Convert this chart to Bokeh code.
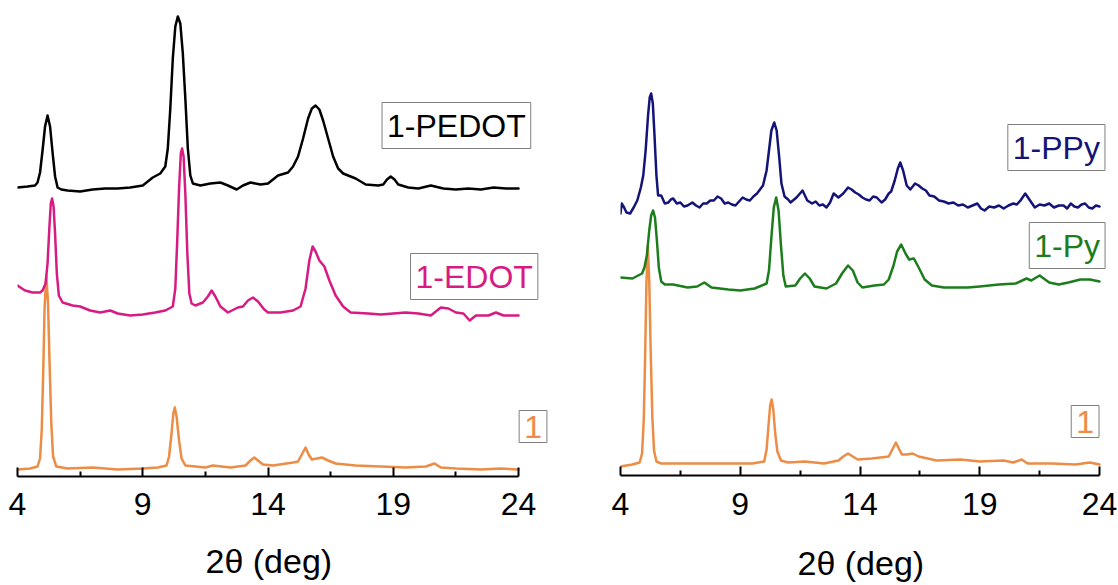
from bokeh.plotting import figure
from bokeh.layouts import row
from bokeh.models import FixedTicker, Label, Range1d, Title
from bokeh.embed import file_html
from bokeh.resources import INLINE

# ---------------- data (2theta in deg, intensity offset in a.u.) ----------------
major_ticks = [4, 9, 14, 19, 24]
minor_ticks = [6.5, 11.5, 16.5, 21.5]
x_title = "2θ (deg)"

# Left panel: 1, 1-EDOT, 1-PEDOT
x_1_left = [4.0, 4.5, 4.8, 4.9, 4.97, 5.03, 5.08, 5.15, 5.22, 5.28, 5.35, 5.42, 5.55, 6.0, 7.0, 8.0,
            9.0, 9.6, 9.95, 10.05, 10.15, 10.22, 10.28, 10.35, 10.45, 10.55, 10.7, 11.5, 11.8, 12.5,
            13.1, 13.3, 13.45, 13.6, 13.8, 14.2, 15.0, 15.2, 15.35, 15.5, 15.62, 15.75, 15.95, 16.15,
            16.4, 16.7, 17.5, 18.5, 19.5, 20.3, 20.65, 20.9, 21.5, 22.5, 23.3, 24.0]
y_1_left = [9, 10, 12, 20, 50, 110, 170, 203, 175, 115, 55, 22, 12, 10, 11, 9,
            10, 11, 13, 22, 45, 65, 71, 62, 38, 20, 13, 11, 13, 11,
            13, 18, 21, 18, 14, 13, 16, 17, 24, 31, 24, 19, 20, 21,
            18, 15, 13, 12, 11, 12, 15, 11, 10, 9, 10, 9]

x_edot = [4.0, 4.3, 4.6, 4.9, 5.0, 5.12, 5.2, 5.27, 5.33, 5.38, 5.44, 5.5, 5.57, 5.65, 5.8, 6.2, 6.5,
          6.9, 7.3, 7.7, 8.0, 8.5, 9.0, 9.5, 9.9, 10.2, 10.3, 10.38, 10.45, 10.52, 10.57, 10.63, 10.7,
          10.78, 10.86, 10.95, 11.1, 11.4, 11.6, 11.75, 11.9, 12.1, 12.4, 12.8, 13.0, 13.2, 13.4,
          13.6, 13.85, 14.0, 14.5, 15.0, 15.3, 15.5, 15.65, 15.78, 15.9, 16.05, 16.25, 16.45, 16.7,
          17.0, 17.3, 18.0, 18.5, 19.0, 19.5, 20.0, 20.5, 20.9, 21.2, 21.5, 21.8, 22.05, 22.3, 22.8,
          23.1, 23.4, 24.0]
y_edot = [193, 188, 186, 186, 188, 195, 215, 250, 275, 280, 272, 245, 205, 183, 176, 173, 172,
          168, 166, 168, 165, 163, 164, 166, 168, 172, 190, 240, 290, 325, 330, 322, 285,
          225, 185, 175, 173, 176, 182, 188, 182, 172, 166, 171, 172, 178, 181,
          177, 169, 166, 166, 168, 172, 190, 218, 232, 227, 218, 212, 198, 183,
          172, 166, 165, 164, 165, 166, 165, 163, 171, 170, 166, 165, 158, 163, 163,
          166, 163, 163]

x_pedot = [4.0, 4.4, 4.7, 4.8, 4.9, 5.0, 5.1, 5.2, 5.3, 5.4, 5.5, 5.6, 5.75, 6.0, 6.5, 7.0,
           7.5, 8.0, 8.5, 9.0, 9.4, 9.7, 9.9, 10.0, 10.1, 10.2, 10.3, 10.4, 10.5, 10.6, 10.7, 10.8,
           10.9, 11.0, 11.3, 11.7, 12.1, 12.4, 12.75, 13.0, 13.3, 13.7, 14.0, 14.4, 14.8, 15.0, 15.2,
           15.4, 15.6, 15.75, 15.9, 16.05, 16.2, 16.4, 16.6, 16.8, 17.0, 17.5, 17.9, 18.4, 18.6,
           18.75, 18.9, 19.05, 19.2, 19.6, 20.0, 20.5, 21.0, 21.5, 22.0, 22.5, 23.0, 23.5, 24.0]
y_pedot = [291, 292, 293, 296, 306, 328, 352, 363, 352, 326, 302, 291, 289, 288, 287, 289,
           290, 290, 291, 293, 301, 305, 312, 330, 370, 420, 452, 462, 455, 425, 380, 330,
           303, 295, 293, 295, 296, 293, 289, 293, 296, 294, 295, 303, 306, 312, 322,
           340, 360, 370, 373, 369, 358, 340, 322, 310, 305, 300, 294, 293, 294,
           299, 302, 299, 294, 291, 290, 293, 290, 289, 290, 289, 291, 290, 290]

# Right panel: 1, 1-Py, 1-PPy
x_1_right = [4.0, 4.5, 4.8, 4.9, 4.97, 5.03, 5.08, 5.14, 5.2, 5.26, 5.33, 5.4, 5.5, 5.7, 6.5, 7.5,
             8.5, 9.5, 10.0, 10.1, 10.18, 10.25, 10.31, 10.38, 10.46, 10.55, 10.7, 11.0, 11.7, 12.5,
             13.1, 13.3, 13.5, 13.7, 13.9, 14.5, 15.2, 15.35, 15.5, 15.62, 15.75, 15.95, 16.2, 16.45,
             17.2, 18.2, 19.0, 20.0, 20.4, 20.75, 21.0, 22.0, 23.0, 23.6, 24.0]
y_1_right = [9, 11, 13, 22, 55, 120, 190, 230, 195, 125, 58, 25, 14, 12, 12, 12,
             12, 12, 14, 26, 50, 70, 76, 66, 42, 24, 15, 13, 14, 12,
             15, 19, 22, 19, 16, 17, 19, 26, 33, 27, 21, 21, 22, 19,
             15, 16, 14, 15, 13, 16, 12, 12, 11, 13, 11]

x_py = [4.0, 4.5, 4.9, 5.0, 5.1, 5.2, 5.28, 5.36, 5.44, 5.52, 5.6, 5.7, 5.85, 6.2, 6.8, 7.2, 7.5,
        7.8, 8.5, 9.0, 9.6, 10.1, 10.2, 10.3, 10.4, 10.5, 10.6, 10.7, 10.8, 10.9, 11.3, 11.5, 11.7,
        11.9, 12.1, 12.6, 13.0, 13.25, 13.5, 13.7, 13.9, 14.1, 14.6, 15.0, 15.2, 15.4, 15.55, 15.72,
        15.9, 16.05, 16.25, 16.45, 16.7, 17.0, 17.5, 18.5, 19.0, 19.8, 20.5, 20.95, 21.15, 21.5,
        21.9, 22.3, 22.7, 23.2, 23.6, 24.0]
y_py = [198, 197, 202, 208, 220, 245, 260, 265, 258, 235, 208, 194, 191, 191, 188, 189, 193,
        188, 186, 185, 187, 192, 205, 238, 268, 278, 265, 230, 200, 189, 190, 197, 202,
        197, 189, 187, 192, 202, 210, 205, 193, 188, 190, 191, 196, 210, 224, 231,
        222, 216, 217, 208, 196, 190, 188, 188, 189, 191, 192, 197, 195, 200,
        193, 191, 193, 196, 196, 194]

x_ppy = [4.0, 4.05, 4.15, 4.25, 4.4, 4.55, 4.7, 4.85, 4.95, 5.05, 5.15, 5.22, 5.28, 5.35, 5.42,
         5.5, 5.57, 5.7, 5.85, 6.0, 6.1, 6.2, 6.35, 6.5, 6.65, 6.8, 7.0, 7.15, 7.3, 7.45, 7.6, 7.75,
         7.9, 8.05, 8.2, 8.35, 8.5, 8.65, 8.8, 8.95, 9.1, 9.25, 9.4, 9.55, 9.7, 9.95, 10.1, 10.2,
         10.3, 10.42, 10.52, 10.62, 10.72, 10.85, 11.0, 11.1, 11.35, 11.6, 11.8, 12.0, 12.15, 12.3,
         12.45, 12.6, 12.75, 12.9, 13.1, 13.3, 13.5, 13.65, 13.8, 13.95, 14.1, 14.25, 14.4, 14.55,
         14.7, 14.9, 15.05, 15.2, 15.3, 15.45, 15.58, 15.68, 15.8, 15.95, 16.1, 16.3, 16.45, 16.6,
         16.75, 16.9, 17.1, 17.3, 17.5, 17.7, 17.9, 18.1, 18.3, 18.5, 18.7, 18.9, 19.05, 19.2, 19.4,
         19.6, 19.8, 20.0, 20.2, 20.4, 20.55, 20.7, 20.9, 21.1, 21.3, 21.5, 21.7, 21.9, 22.1, 22.3,
         22.5, 22.65, 22.8, 22.95, 23.1, 23.25, 23.4, 23.55, 23.7, 23.85, 24.0]
y_ppy = [262, 272, 268, 263, 262, 268, 275, 288, 300, 325, 360, 378, 382, 372, 340,
         300, 280, 280, 272, 273, 276, 277, 272, 273, 269, 270, 273, 270, 268, 272, 272, 275,
         275, 279, 277, 272, 273, 271, 270, 274, 278, 276, 275, 279, 282, 290, 305, 325,
         345, 353, 345, 320, 292, 279, 276, 273, 278, 285, 275, 272, 274, 270,
         271, 268, 273, 282, 278, 282, 288, 286, 283, 281, 278, 276, 275, 279,
         278, 273, 276, 282, 284, 295, 307, 313, 305, 290, 286, 292, 290, 287,
         285, 280, 279, 275, 274, 272, 273, 270, 271, 268, 270, 272, 267, 265, 269,
         268, 270, 267, 270, 272, 271, 275, 282, 275, 268, 271, 270, 272, 268, 270,
         270, 267, 272, 269, 268, 271, 272, 268, 267, 270, 269]

labels_left = ["1-PEDOT", "1-EDOT", "1"]
labels_right = ["1-PPy", "1-Py", "1"]

# ---------------- styling ----------------
FONT = "Liberation Sans"
C_ORANGE = "#ec8c45"
C_MAGENTA = "#d81b82"
C_BLACK = "#000000"
C_NAVY = "#141478"
C_GREEN = "#1c7d1c"
C_BORDER = "#7f7f7f"
LW = 2.5


def make_panel(frame_w, border_left, border_right, px_per_unit, frame_h, border_bottom,
               label_standoff, title_offset, spacer_px):
    p = figure(frame_width=frame_w, frame_height=frame_h,
               x_range=Range1d(4, 4 + frame_w / px_per_unit), y_range=Range1d(0, frame_h),
               output_backend="svg", toolbar_location=None, y_axis_location=None,
               min_border_left=border_left, min_border_right=border_right,
               min_border_top=0, min_border_bottom=border_bottom)
    p.outline_line_color = None
    p.xgrid.visible = False
    p.ygrid.visible = False
    p.background_fill_color = "white"
    p.border_fill_color = "white"
    ax = p.xaxis[0]
    ax.bounds = (4, 24)
    ax.ticker = FixedTicker(ticks=major_ticks, minor_ticks=minor_ticks)
    ax.axis_line_width = 2
    ax.axis_line_color = "black"
    ax.major_tick_line_width = 2
    ax.minor_tick_line_width = 2
    ax.major_tick_in = 9
    ax.major_tick_out = 0
    ax.minor_tick_in = 5
    ax.minor_tick_out = 0
    ax.major_label_text_font = FONT
    ax.major_label_text_font_size = "32px"
    ax.major_label_text_color = "black"
    ax.major_label_standoff = label_standoff
    # blank spacer so that the axis title sits lower, as in the original
    p.add_layout(Title(text=" ", text_font=FONT, text_font_size=f"{spacer_px}px"), "below")
    p.add_layout(Title(text=x_title, align="left", offset=title_offset,
                       text_font=FONT, text_font_size="34px",
                       text_font_style="normal", text_color="black"), "below")
    return p


def add_box_label(p, x, y, text, color):
    p.add_layout(Label(x=x, y=y, text=text, text_align="center", text_baseline="middle",
                       text_font=FONT, text_font_size="32px", text_color=color,
                       border_line_color=C_BORDER, border_line_width=1,
                       background_fill_color="white", padding=5))


def add_trace(p, xs, ys, color, shift=0):
    p.line(xs, [v - shift for v in ys], line_color=color, line_width=LW,
           line_join="round", line_cap="round")


# left panel
pl = make_panel(535, 17, 0, 25.05, 476, 109, 16, 188, 4)
add_trace(pl, x_1_left, y_1_left, C_ORANGE, 2)
add_trace(pl, x_edot, y_edot, C_MAGENTA, 2)
add_trace(pl, x_pedot, y_pedot, C_BLACK, 2)
add_box_label(pl, 21.52, 351, labels_left[0], C_BLACK)
add_box_label(pl, 22.23, 200, labels_left[1], C_MAGENTA)
add_box_label(pl, 24.58, 50, labels_left[2], C_ORANGE)

# right panel
pr = make_panel(496, 68, 2, 23.95, 475, 110, 17, 177, 7)
add_trace(pr, x_1_right, y_1_right, C_ORANGE)
add_trace(pr, x_py, y_py, C_GREEN)
add_trace(pr, x_ppy, y_ppy, C_NAVY)
add_box_label(pr, 22.2, 328, labels_right[0], C_NAVY)
add_box_label(pr, 22.65, 230, labels_right[1], C_GREEN)
add_box_label(pr, 23.4, 54, labels_right[2], C_ORANGE)

layout = row(pl, pr, spacing=0)
open("out.html", "w").write(file_html(layout, INLINE))
